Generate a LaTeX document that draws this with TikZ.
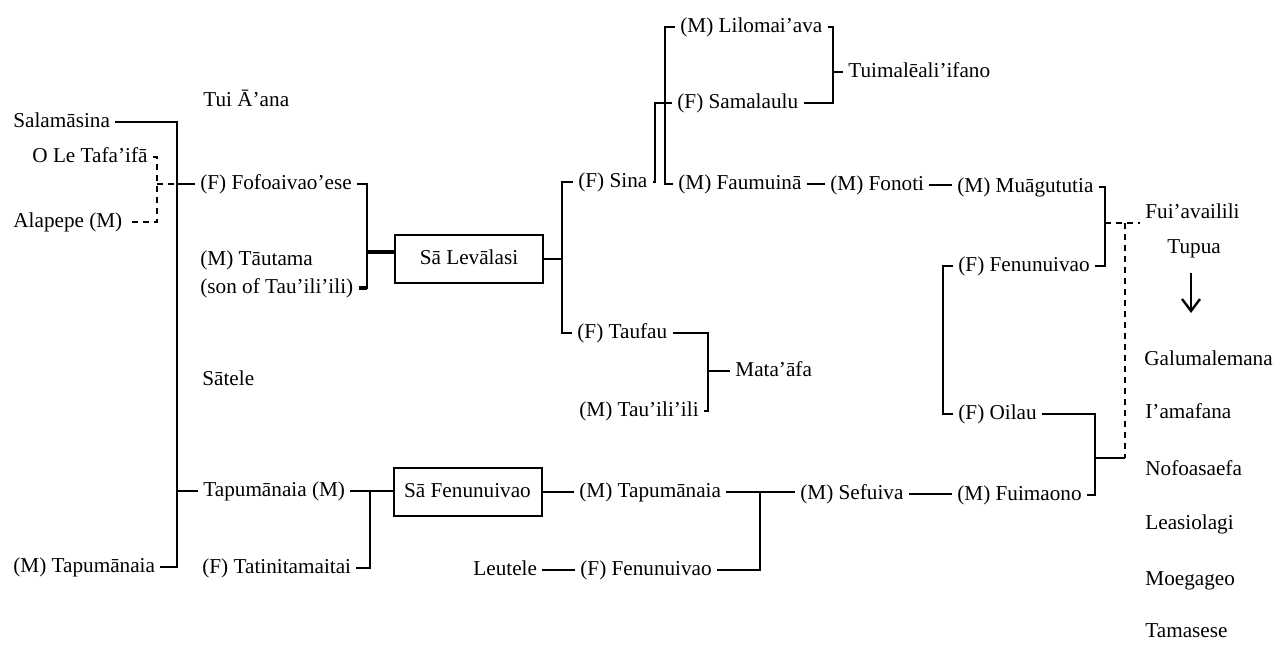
\documentclass[tikz,border=0pt]{standalone}
\usepackage{fontspec}
\setmainfont{Liberation Serif}
\usetikzlibrary{arrows.meta}
\begin{document}
\begin{tikzpicture}[x=0.5pt,y=-0.5pt,
  lbl/.style={inner xsep=2.5pt, inner ysep=0pt, text height=7.5pt, text depth=2.3pt, font=\fontsize{10.6}{14}\selectfont},
  lw/.style={anchor=west, lbl},
  famb/.style={draw, line width=1pt, lbl, minimum width=74pt, minimum height=24pt},
  conn/.style={line width=1.2pt},
  dconn/.style={line width=1.2pt, dash pattern=on 3pt off 2.5pt}]
\useasboundingbox (0,0) rectangle (1287,648);
% nodes
\node[lw] (sal) at (8,122) {Salamāsina};
\node[lw] (tafa) at (27,157) {O Le Tafa’ifā};
\node[lw] (ala) at (8,222) {Alapepe (M)};
\node[lw] (tapl) at (8,567) {(M) Tapumānaia};
\node[lw] (tui) at (198,101) {Tui Ā’ana};
\node[lw] (fofo) at (195,184) {(F) Fofoaivao’ese};
\node[lw, align=left] (taut) at (195,288) {(M) Tāutama\\(son of Tau’ili’ili)};
\node[lw] (sat) at (197,380) {Sātele};
\node[lw] (tapm) at (198,491) {Tapumānaia (M)};
\node[lw] (tati) at (197,568) {(F) Tatinitamaitai};
\node[famb] (lev) at (469,259) {Sā Levālasi};
\node[famb] (sfen) at (467.5,492) {Sā Fenunuivao};
\node[lw] (sina) at (573,182) {(F) Sina};
\node[lw] (taufau) at (572,333) {(F) Taufau};
\node[lw] (tauili) at (574,411) {(M) Tau’ili’ili};
\node[lw] (mata) at (730,371) {Mata’āfa};
\node[lw] (tapr) at (574,492) {(M) Tapumānaia};
\node[lw] (leu) at (468,570) {Leutele};
\node[lw] (fenf) at (575,570) {(F) Fenunuivao};
\node[lw] (lilo) at (675,27) {(M) Lilomai’ava};
\node[lw] (sama) at (672,103) {(F) Samalaulu};
\node[lw] (faum) at (673,184) {(M) Faumuinā};
\node[lw] (tuim) at (843,72) {Tuimalēali’ifano};
\node[lw] (fono) at (825,185) {(M) Fonoti};
\node[lw] (mua) at (952,187) {(M) Muāgututia};
\node[lw] (fen2) at (953,266) {(F) Fenunuivao};
\node[lw] (oil) at (953,414) {(F) Oilau};
\node[lw] (sef) at (795,494) {(M) Sefuiva};
\node[lw] (fui) at (952,495) {(M) Fuimaono};
\node[lw] (fuia) at (1140,213) {Fui’availili};
\node[lw] (tupua) at (1162,248) {Tupua};
\node[lw] (galu) at (1139,360) {Galumalemana};
\node[lw] (iama) at (1140,413) {I’amafana};
\node[lw] (nofo) at (1140,470) {Nofoasaefa};
\node[lw] (leas) at (1140,524) {Leasiolagi};
\node[lw] (moeg) at (1140,580) {Moegageo};
\node[lw] (tama) at (1140,632) {Tamasese};
% bus coordinates
\coordinate (v1) at (177,0);
\coordinate (dv) at (157,0);
\coordinate (v2) at (367,0);
\coordinate (levin) at (367,252);
\coordinate (v3) at (562,0);
\coordinate (v4) at (655,0);
\coordinate (v5) at (665,0);
\coordinate (v6) at (833,0);
\coordinate (v7) at (1105,0);
\coordinate (dj) at (1105,223);
\coordinate (dk) at (1140,223);
\coordinate (fj) at (1125,458);
\coordinate (v8) at (943,0);
\coordinate (v9) at (1095,0);
\coordinate (v10) at (760,0);
\coordinate (v11) at (370,0);
\coordinate (v12) at (708,0);
\coordinate (a1) at (1191,273);
\coordinate (a2) at (1191,313);
% connectors
\draw[conn] (sal.east) -- (sal.east -| v1) -- (tapl.east -| v1) -- (tapl.east);
\draw[conn] (fofo.west -| v1) -- (fofo.west);
\draw[conn] (tapm.west -| v1) -- (tapm.west);
\draw[dconn] (tafa.east) -- (tafa.east -| dv) -- (ala.east -| dv) -- (ala.east);
\draw[dconn] (fofo.west -| dv) -- (fofo.west -| v1);
\draw[conn] (fofo.east) -- (fofo.east -| v2) -- (taut.east -| v2) -- (taut.east);
\draw[line width=1.6pt] (taut.east) -- (taut.east -| v2);
\draw[line width=1.6pt] (levin) -- (levin -| lev.west);
\draw[conn] (lev.east) -- (lev.east -| v3);
\draw[conn] (sina.west) -- (sina.west -| v3) -- (taufau.west -| v3) -- (taufau.west);
\draw[conn] (sina.east) -- (sina.east -| v4) -- (sama.west -| v4) -- (sama.west -| v5);
\draw[conn] (lilo.west) -- (lilo.west -| v5) -- (faum.west -| v5) -- (faum.west);
\draw[conn] (sama.west -| v5) -- (sama.west);
\draw[conn] (lilo.east) -- (lilo.east -| v6) -- (sama.east -| v6) -- (sama.east);
\draw[conn] (tuim.west -| v6) -- (tuim.west);
\draw[conn] (faum.east) -- (faum.east -| fono.west);
\draw[conn] (fono.east) -- (fono.east -| mua.west);
\draw[conn] (mua.east) -- (mua.east -| v7) -- (fen2.east -| v7) -- (fen2.east);
\draw[dconn] (dj) -- (dk);
\draw[dconn] (dj -| fj) -- (fj);
\draw[conn] (fen2.west) -- (fen2.west -| v8) -- (oil.west -| v8) -- (oil.west);
\draw[conn] (oil.east) -- (oil.east -| v9) -- (fui.east -| v9) -- (fui.east);
\draw[conn] (fj -| v9) -- (fj);
\draw[conn] (sef.east) -- (sef.east -| fui.west);
\draw[conn] (sfen.east) -- (sfen.east -| tapr.west);
\draw[conn] (tapr.east) -- (tapr.east -| sef.west);
\draw[conn] (tapr.east -| v10) -- (fenf.east -| v10) -- (fenf.east);
\draw[conn] (leu.east) -- (leu.east -| fenf.west);
\draw[conn] (tapm.east) -- (tapm.east -| sfen.west);
\draw[conn] (tapm.east -| v11) -- (tati.east -| v11) -- (tati.east);
\draw[conn] (taufau.east) -- (taufau.east -| v12) -- (tauili.east -| v12) -- (tauili.east);
\draw[conn] (mata.west -| v12) -- (mata.west);
\draw[conn, -{Straight Barb[length=6pt, width=9pt]}] (a1) -- (a2);
\end{tikzpicture}
\end{document}
